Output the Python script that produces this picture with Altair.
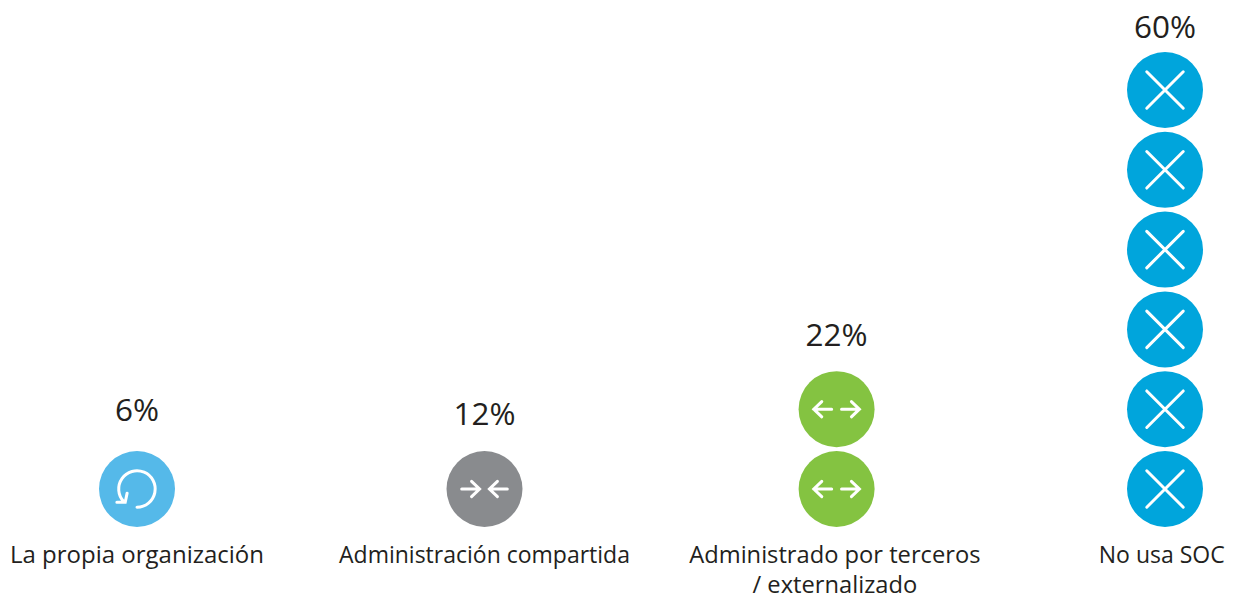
import altair as alt
import pandas as pd

categories = ["La propia organización", "Administración compartida",
              "Administrado por terceros\n/ externalizado", "No usa SOC"]
percent_labels = ["6%", "12%", "22%", "60%"]
icon_counts = [1, 1, 2, 6]
percent_rows = [0.85, 0.80, 1.79, 5.65]
caption_row = -0.93
caption_cols = [0, 1, 1.995, 2.99]
caption_sizes = [24, 23, 23.7, 23]
colors = ["#55b9e9", "#898b8e", "#84c341", "#00a5dc"]
# icon glyphs, in the -1..1 box that Vega uses for custom symbols
glyphs = [
    "M0,0.48 A0.48,0.48 0 1 0 -0.35,0.33 M-0.53,0.35 L-0.31,0.35 L-0.26,0.11",
    "M-0.6,0 L-0.13,0 M-0.34,-0.2 L-0.13,0 L-0.34,0.2 M0.6,0 L0.13,0 M0.34,-0.2 L0.13,0 L0.34,0.2",
    "M-0.6,0 L-0.13,0 M-0.39,-0.2 L-0.6,0 L-0.39,0.2 M0.6,0 L0.13,0 M0.39,-0.2 L0.6,0 L0.39,0.2",
    "M-0.48,-0.48 L0.48,0.48 M0.48,-0.48 L-0.48,0.48",
]

icons = pd.DataFrame([
    {"cat": c, "col": i, "row": r}
    for i, (c, n) in enumerate(zip(categories, icon_counts)) for r in range(n)
])
texts = pd.DataFrame({
    "cat": categories, "col": range(4), "pct": percent_labels,
    "pct_row": percent_rows, "cap_row": [caption_row] * 4,
    "cap_col": caption_cols, "cap_size": caption_sizes,
})

scale_x = alt.Scale(domain=[0, 1, 2, 3], range=[129, 476.5, 828.6, 1157])
x = alt.X("col:Q", axis=None, scale=scale_x)
scale_y = alt.Scale(domain=[0, 5], range=[481, 82])
y = alt.Y("row:Q", axis=None, scale=scale_y)

discs = alt.Chart(icons).mark_point(filled=True, opacity=1, size=5776, shape="circle").encode(
    x=x, y=y,
    color=alt.Color("cat:N", legend=None, scale=alt.Scale(domain=categories, range=colors)),
)
marks = alt.Chart(icons).mark_point(
    filled=False, opacity=1, size=5776, stroke="#ffffff", strokeWidth=3, strokeCap="round",
).encode(
    x=x, y=y,
    shape=alt.Shape("cat:N", legend=None, scale=alt.Scale(domain=categories, range=glyphs)),
)
pct = alt.Chart(texts).mark_text(
    font="Open Sans", fontSize=31.5, color="#231f20", align="center", baseline="alphabetic",
).encode(
    x=x, y=alt.Y("pct_row:Q", axis=None, scale=scale_y), text="pct:N",
)
cap = alt.Chart(texts).mark_text(
    font="Open Sans", color="#231f20", align="center", baseline="alphabetic",
    lineBreak="\n", lineHeight=30,
).encode(
    x=alt.X("cap_col:Q", axis=None, scale=scale_x),
    y=alt.Y("cap_row:Q", axis=None, scale=scale_y),
    text="cat:N",
    size=alt.Size("cap_size:Q", legend=None, scale=None),
)

chart = (discs + marks + pct + cap).properties(
    width=1217, height=585, padding=0, autosize=alt.AutoSizeParams(type="none"),
).configure_view(stroke=None)

chart.save("out.html", embed_options={"renderer": "svg", "actions": False})
